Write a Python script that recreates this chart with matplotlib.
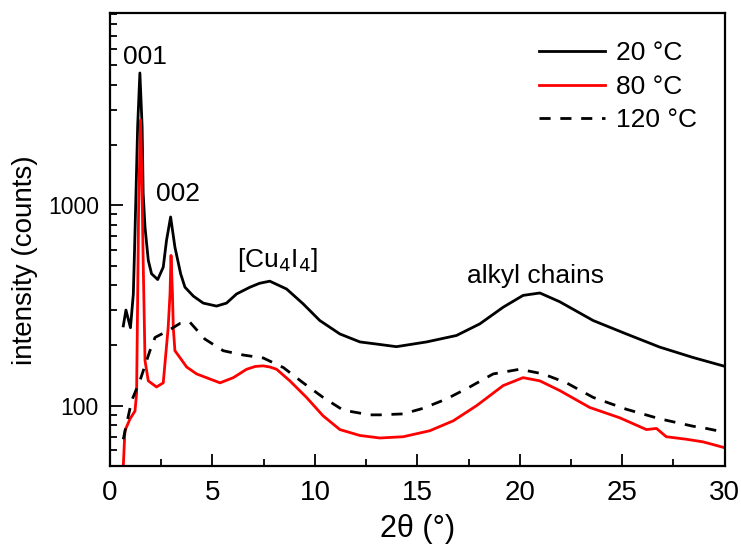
import matplotlib
matplotlib.use("Agg")
import matplotlib.pyplot as plt

# XRD patterns (2theta in degrees, intensity in counts)
tt_20 = [0.65, 0.78, 1.0, 1.14, 1.2, 1.27, 1.35, 1.46, 1.57, 1.62, 1.71, 1.87,
         2.03, 2.33, 2.6, 2.76, 2.96, 3.17, 3.45, 3.66, 4.07, 4.55, 5.2, 5.69,
         6.18, 6.83, 7.3, 7.8, 8.62, 9.43, 10.24, 11.22, 12.2, 13.17, 13.98,
         15.45, 16.91, 18.05, 19.19, 20.16, 20.98, 21.95, 23.58, 25.2, 26.83,
         28.45, 29.92]
I_20 = [250, 300, 245, 360, 600, 1148, 2455, 4570, 2455, 1148, 778, 531,
        455, 426, 491, 668, 874, 618, 455, 390, 352, 325, 314, 325,
        361, 390, 408, 418, 382, 322, 266, 228, 208, 202, 197,
        208, 224, 256, 310, 355, 365, 330, 266, 228, 196,
        174, 158]

tt_80 = [0.63, 0.73, 0.98, 1.22, 1.3, 1.4, 1.49, 1.55, 1.62, 1.68, 1.71, 1.87,
         2.27, 2.6, 2.84, 2.93, 2.98, 3.05, 3.09, 3.17, 3.41, 3.74, 4.23, 5.37,
         6.02, 6.67, 7.1, 7.48, 7.8, 8.13, 8.78, 9.59, 10.4, 11.22, 12.2, 13.17,
         14.31, 15.61, 16.75, 17.89, 19.19, 20.16, 20.98, 21.95, 23.41, 24.88,
         26.18, 26.67, 27.15, 28.13, 28.94, 29.43, 29.92]
I_80 = [45, 75, 86, 94, 115, 1000, 2660, 1500, 531, 250, 168, 133,
        124, 130, 245, 361, 562, 361, 245, 188, 174, 156, 144, 130,
        138, 152, 157, 158, 156, 152, 133, 110, 89, 76, 71, 69,
        70, 75, 84, 100, 126, 138, 133, 119, 98, 87,
        76, 77, 70, 68, 66, 64, 62]

tt_120 = [0.65, 1.06, 1.46, 1.95, 2.2, 2.85, 3.41, 3.9, 4.63, 5.53, 6.5, 7.48,
          8.46, 9.43, 10.4, 11.38, 12.68, 13.17, 14.31, 15.28, 16.42, 17.56,
          18.7, 20.0, 21.14, 22.28, 23.58, 25.2, 26.83, 28.45, 29.1, 29.92]
I_120 = [68, 106, 133, 188, 219, 237, 257, 261, 215, 188, 179, 173,
         155, 130, 110, 95, 90, 90, 91, 97, 108, 124,
         144, 152, 144, 130, 110, 96, 86, 79, 77, 74]

labels = ["20 °C", "80 °C", "120 °C"]

plt.rcParams['font.family'] = ['Liberation Sans', 'DejaVu Sans']

fig = plt.figure(figsize=(7.41, 5.54), dpi=100)
ax = fig.add_axes([0.1484, 0.1588, 0.8296, 0.8177])

ax.plot(tt_20, I_20, color='black', lw=2.0, label=labels[0])
ax.plot(tt_80, I_80, color='red', lw=2.0, label=labels[1])
ax.plot(tt_120, I_120, color='black', lw=2.0, ls=(0, (4, 3.5)), label=labels[2])

ax.set_yscale('log')
ax.set_xlim(0, 30)
ax.set_ylim(50, 9100)
ax.set_xticks([0, 5, 10, 15, 20, 25, 30])
ax.set_xticks([2.5, 7.5, 12.5, 17.5, 22.5, 27.5], minor=True)
ax.set_yticks([100, 1000])
ax.set_yticklabels(["100", "1000"])
ax.set_xticklabels(["0", "5", "10", "15", "20", "25", "30"])
ax.tick_params(which='major', direction='in', length=9, width=1.3, top=False, right=False)
ax.tick_params(which='minor', direction='in', length=5, width=1.3, top=False, right=False)
ax.tick_params(axis='x', labelsize=20, pad=10)
ax.tick_params(axis='y', labelsize=16.5, pad=8)
for s in ax.spines.values():
    s.set_linewidth(1.6)

ax.set_xlabel("2θ (°)", fontsize=22, labelpad=6)
ax.set_ylabel("intensity (counts)", fontsize=20)
ax.yaxis.set_label_coords(-0.117, 0.455)

ax.text(1.7, 4800, "001", fontsize=19, ha='center', va='bottom')
ax.text(3.3, 990, "002", fontsize=19, ha='center', va='bottom')
ax.text(8.2, 455, "[Cu$_4$I$_4$]", fontsize=19, ha='center', va='bottom')
ax.text(20.75, 385, "alkyl chains", fontsize=19, ha='center', va='bottom')

ax.legend(loc='upper right', bbox_to_anchor=(0.993, 0.99), frameon=False,
          fontsize=19, handlelength=2.5, handletextpad=0.4, labelspacing=0.36)

fig.savefig("out.png", dpi=100)
